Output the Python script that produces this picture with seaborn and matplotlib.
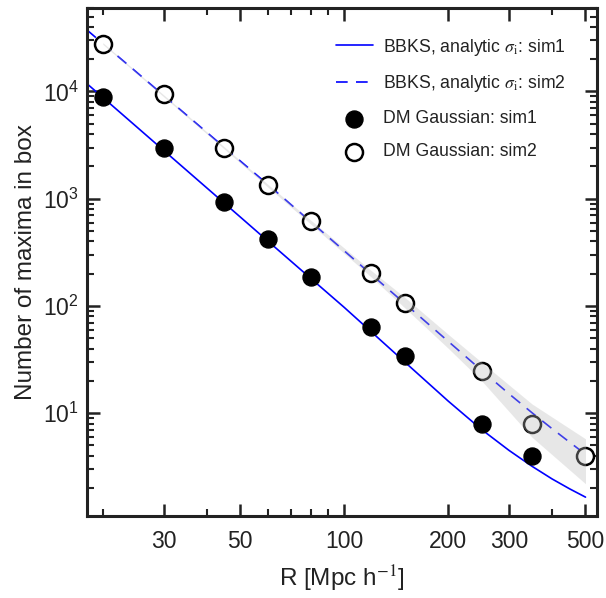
import seaborn as sns
import matplotlib.pyplot as plt
from matplotlib.ticker import FixedLocator, FixedFormatter, NullFormatter, LogLocator

# Data
R_sim1 = [20, 30, 45, 60, 80, 120, 150, 250, 350]
N_sim1 = [8800, 2970, 925, 418, 187, 63, 34, 8, 4]
R_sim2 = [20, 30, 45, 60, 80, 120, 150, 250, 350, 500]
N_sim2 = [28000, 9440, 2970, 1340, 615, 201, 107, 25, 8, 4]

R_curve = [18, 20, 25, 30, 40, 50, 60, 80, 100, 120, 150, 200, 250, 300, 350, 400, 450, 500]
bbks_sim1 = [11800, 8800, 4710, 2825, 1262, 676, 405, 181, 97.1, 57.2, 29.9, 13.0,
             7.05, 4.51, 3.20, 2.44, 1.97, 1.65]
bbks_sim2 = [37400, 28000, 15200, 9180, 4160, 2250, 1364, 610, 327, 196, 105, 46.9,
             25.1, 15.2, 10.1, 7.18, 5.36, 4.14]

R_band = [20, 45, 60, 80, 120, 150, 200, 250, 350, 500]
band_lo = [27500, 2900, 1290, 580, 185, 95.7, 40.4, 20.1, 5.97, 2.2]
band_hi = [28500, 3040, 1370, 632, 213, 120, 54.5, 29.9, 12.2, 5.77]

x_major = [30, 50, 100, 200, 300, 500]
x_minor = [20, 40, 60, 70, 80, 90, 400]

sns.set_style('ticks')
plt.rcParams['font.family'] = ['Liberation Sans', 'DejaVu Sans']
plt.rcParams['mathtext.fontset'] = 'stix'
plt.rcParams['text.color'] = '#222222'
plt.rcParams['axes.labelcolor'] = '#222222'

fig = plt.figure(figsize=(6.06, 5.98), dpi=100)
ax = fig.add_axes([0.1436, 0.1371, 0.8416, 0.8495])
ax.set(xscale='log', yscale='log')

sns.lineplot(x=R_curve, y=bbks_sim1, color='blue', lw=1.2, ax=ax,
             label=r'BBKS, analytic $\sigma_{\rm i}$: sim1', zorder=2)
sns.lineplot(x=R_curve, y=bbks_sim2, color='blue', lw=1.2, ax=ax,
             linestyle=(0, (7, 5)),
             label=r'BBKS, analytic $\sigma_{\rm i}$: sim2', zorder=2)
sns.scatterplot(x=R_sim1, y=N_sim1, s=150, color='black', edgecolor='black',
                ax=ax, label='DM Gaussian: sim1', zorder=3)
sns.scatterplot(x=R_sim2, y=N_sim2, s=150, facecolor='white', edgecolor='black',
                linewidth=1.8, ax=ax, label='DM Gaussian: sim2', zorder=3)
ax.fill_between(R_band, band_lo, band_hi, color='#bbbbbb', alpha=0.34,
                lw=0, zorder=4)

ax.set_xlim(18, 540)
ax.set_ylim(1.1, 6e4)

ax.xaxis.set_major_locator(FixedLocator(x_major))
ax.xaxis.set_major_formatter(FixedFormatter([str(v) for v in x_major]))
ax.xaxis.set_minor_locator(FixedLocator(x_minor))
ax.xaxis.set_minor_formatter(NullFormatter())
ax.yaxis.set_major_locator(LogLocator(base=10, numticks=10))
ax.yaxis.set_minor_locator(LogLocator(base=10, subs=range(2, 10), numticks=20))
ax.yaxis.set_minor_formatter(NullFormatter())

ax.tick_params(which='both', direction='in', top=True, right=True,
               colors='#222222', labelsize=16.5)
ax.tick_params(which='major', length=9, width=1.8)
ax.tick_params(which='minor', length=5, width=1.5)
ax.tick_params(axis='x', which='major', pad=10)
ax.tick_params(axis='y', which='major', pad=6)
for sp in ax.spines.values():
    sp.set_linewidth(2.2)
    sp.set_color('#222222')

ax.set_xlabel(r'R [Mpc h$^{-1}$]', fontsize=17.5, labelpad=8)
ax.set_ylabel('Number of maxima in box', fontsize=17.5, labelpad=4)

leg = ax.legend(loc='upper right', frameon=False, fontsize=12.7,
                handlelength=2.1, handletextpad=0.6, labelspacing=0.9,
                bbox_to_anchor=(0.97, 0.975))

fig.savefig('out.png', dpi=100)
plt.close(fig)
